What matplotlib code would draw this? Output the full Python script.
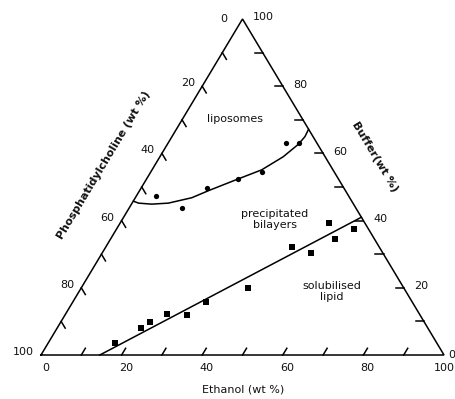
import matplotlib
matplotlib.use("Agg")
import matplotlib.pyplot as plt

# Phase diagram compositions in wt %; phosphatidylcholine is the remainder
liposome_ethanol = [4.8, 13.1, 16.4, 22.6, 27.6, 29.2, 32.5]
liposome_buffer = [47.4, 43.7, 49.7, 52.5, 54.6, 63.1, 63.1]

solubilised_ethanol = [16.6, 20.7, 22.2, 25.3, 30.2, 32.9, 41.3, 46.3, 51.8, 51.8, 55.7, 58.9]
solubilised_buffer = [3.5, 8.1, 9.7, 12.1, 12.0, 15.9, 20.0, 32.2, 30.3, 39.4, 34.5, 37.6]

# liposome / precipitated bilayer boundary
boundary_ethanol = [0.0, 1.6, 5.0, 9.0, 14.0, 17.1, 22.4, 27.2, 30.6, 32.5, 33.0, 32.8]
boundary_buffer = [45.8, 45.2, 44.9, 45.2, 46.8, 48.9, 52.2, 55.1, 59.0, 62.7, 65.0, 67.2]

# bilayer / solubilised lipid boundary
solub_line_ethanol = [14.6, 59.0]
solub_line_buffer = [0.0, 41.0]

tick_labels = [0, 20, 40, 60, 80, 100]
tick_marks = [10, 20, 30, 40, 50, 60, 70, 80, 90]

W, H = 456, 399
PX = 72.0 / 100.0  # points per pixel at 100 dpi


def cart(ethanol, buffer):
    """Ternary (ethanol, buffer) -> cartesian; bottom edge = ethanol axis."""
    x = [(e + b / 2.0) / 100.0 for e, b in zip(ethanol, buffer)]
    y = [b / 100.0 for b in buffer]
    return x, y


fig = plt.figure(figsize=(W / 100, H / 100), dpi=100)
ax = fig.add_axes([41 / W, 44 / H, 403 / W, 336 / H])
ax.set_xlim(0, 1)
ax.set_ylim(0, 1)
ax.axis("off")

lw = 1.1
# triangle frame
fx, fy = cart([0, 100, 0, 0], [0, 0, 100, 0])
ax.plot(fx, fy, color="black", lw=lw, clip_on=False, solid_joinstyle="miter")

t = 2.0  # tick length in wt %
for v in tick_marks:
    # ethanol ticks (constant ethanol)
    x, y = cart([v, v], [0, t])
    ax.plot(x, y, color="black", lw=lw, clip_on=False)
    # phosphatidylcholine ticks (constant PC)
    x, y = cart([0, t], [100 - v, 100 - v - t])
    ax.plot(x, y, color="black", lw=lw, clip_on=False)
    # buffer ticks (constant buffer)
    x, y = cart([100 - v, 100 - v - t], [v, v])
    ax.plot(x, y, color="black", lw=lw, clip_on=False)

fs = 8
tc = "#111111"
for v in tick_labels:
    # ethanol labels along the bottom
    x, y = cart([v], [0])
    dx = 0 if v == 100 else 4.4
    ax.annotate(str(v), (x[0], y[0]), xytext=(dx * PX, -13.3 * PX),
                textcoords="offset points", ha="center", va="center",
                fontsize=fs, color=tc, annotation_clip=False)
    # phosphatidylcholine labels on the left edge
    x, y = cart([0], [100 - v])
    dx, dy = (-15, 0) if v == 0 else (-7, 3)
    ax.annotate(str(v), (x[0], y[0]), xytext=(dx * PX, dy * PX),
                textcoords="offset points", ha="right", va="center",
                fontsize=fs, color=tc, annotation_clip=False)
    # buffer labels on the right edge
    x, y = cart([100 - v], [v])
    dx, dy = (4, 0) if v == 0 else (10, 1.5)
    ax.annotate(str(v), (x[0], y[0]), xytext=(dx * PX, dy * PX),
                textcoords="offset points", ha="left", va="center",
                fontsize=fs, color=tc, annotation_clip=False)

# phase boundaries
x, y = cart(boundary_ethanol, boundary_buffer)
ax.plot(x, y, color="black", lw=lw, clip_on=False, solid_capstyle="round")
x, y = cart(solub_line_ethanol, solub_line_buffer)
ax.plot(x, y, color="black", lw=lw, clip_on=False)

# experimental points
x, y = cart(liposome_ethanol, liposome_buffer)
ax.plot(x, y, "o", color="black", ms=3.8, mew=0, clip_on=False)
x, y = cart(solubilised_ethanol, solubilised_buffer)
ax.plot(x, y, "s", color="black", ms=4.4, mew=0, clip_on=False)

# region names
for label, e, b in [("liposomes", 13.0, 70.1),
                    ("precipitated\nbilayers", 37.8, 40.3),
                    ("solubilised\nlipid", 62.7, 18.8)]:
    x, y = cart([e], [b])
    ax.text(x[0], y[0], label, ha="center", va="center", fontsize=fs,
            color=tc, linespacing=1.15, multialignment="center")

# axis titles
fig.text(243 / W, 1 - 390 / H, "Ethanol (wt %)", ha="center", va="center",
         fontsize=fs, color=tc)
fig.text(104 / W, 1 - 165 / H, "Phosphatidylcholine (wt %)", ha="center",
         va="center", rotation=59, fontsize=fs, color=tc,
         fontweight="semibold", rotation_mode="anchor")
fig.text(375 / W, 1 - 157 / H, "Buffer(wt %)", ha="center", va="center",
         rotation=-59, fontsize=fs, color=tc, fontweight="semibold",
         rotation_mode="anchor")

fig.savefig("out.png", dpi=100, facecolor="white")
